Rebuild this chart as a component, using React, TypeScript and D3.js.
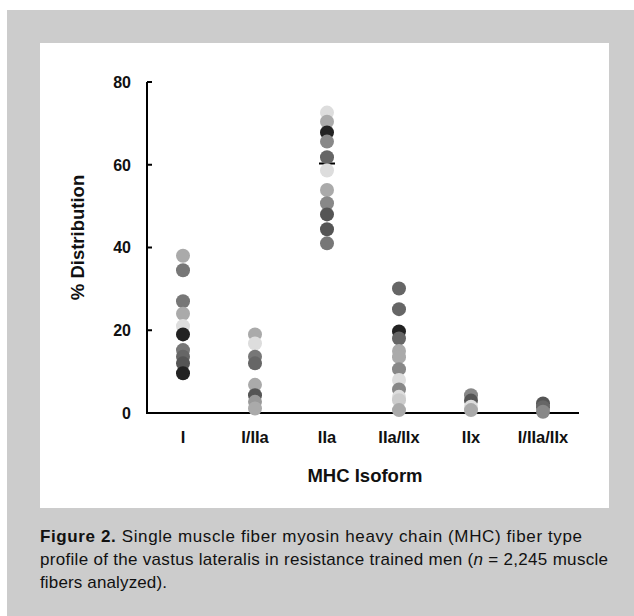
import React from "react";
import * as d3 from "d3";

const categories = ["I", "I/IIa", "IIa", "IIa/IIx", "IIx", "I/IIa/IIx"];

// values per category with gray shade of each dot
const groupI = [38, 34.5, 27, 24, 21, 19, 15.2, 13.6, 12, 9.6];
const groupIShade = ["#aaa", "#777", "#777", "#aaa", "#ddd", "#222", "#777", "#666", "#555", "#222"];
const groupIIIa = [19, 16.8, 13.6, 12, 6.8, 4.3, 2.7, 1.1];
const groupIIIaShade = ["#aaa", "#ddd", "#777", "#666", "#aaa", "#555", "#999", "#aaa"];
const groupIIa = [72.6, 70.4, 67.8, 65.6, 61.8, 58.6, 53.9, 50.7, 48, 44.4, 41];
const groupIIaShade = ["#ddd", "#aaa", "#222", "#888", "#666", "#ddd", "#aaa", "#888", "#555", "#555", "#777"];
const groupIIaIIx = [30.1, 25.1, 19.7, 18, 15, 13.5, 10.6, 8, 5.7, 3.9, 3.1, 0.7];
const groupIIaIIxShade = ["#666", "#666", "#222", "#666", "#aaa", "#aaa", "#888", "#ddd", "#888", "#ddd", "#ccc", "#aaa"];
const groupIIx = [4.3, 3, 1.5, 0.7];
const groupIIxShade = ["#888", "#555", "#ddd", "#aaa"];
const groupIIIaIIx = [2.3, 1.4, 0.3];
const groupIIIaIIxShade = ["#555", "#666", "#888"];

const yTicks = [0, 20, 40, 60, 80];

const groups = [
  { cat: "I", vals: groupI, shades: groupIShade },
  { cat: "I/IIa", vals: groupIIIa, shades: groupIIIaShade },
  { cat: "IIa", vals: groupIIa, shades: groupIIaShade },
  { cat: "IIa/IIx", vals: groupIIaIIx, shades: groupIIaIIxShade },
  { cat: "IIx", vals: groupIIx, shades: groupIIxShade },
  { cat: "I/IIa/IIx", vals: groupIIIaIIx, shades: groupIIIaIIxShade },
];

export default function App() {
  const W = 634, H = 616;
  const x0 = 147, x1 = 579;
  const y = d3.scaleLinear().domain([0, 80]).range([413, 82]);
  const x = d3.scaleBand().domain(categories).range([x0, x1]);
  const cx = (c: string) => (x(c) ?? 0) + x.bandwidth() / 2;
  const font = "'Liberation Sans', Arial, Helvetica, sans-serif";

  return (
    <svg width={W} height={H} style={{ position: "absolute", left: 0, top: 0 }} fontFamily={font}>
      <rect x={0} y={0} width={W} height={H} fill="#fff" />
      <rect x={7} y={10} width={W - 7} height={H - 10} fill="#cccccc" />
      <rect x={40} y={43} width={569} height={465} fill="#fff" />

      {/* axes */}
      <line x1={x0} x2={x0} y1={y(80)} y2={y(0)} stroke="#000" strokeWidth={2} />
      <line x1={x0 - 1} x2={x1} y1={y(0)} y2={y(0)} stroke="#000" strokeWidth={2} />
      {yTicks.map((t) => (
        <g key={t}>
          <line x1={x0} x2={x0 + 5} y1={y(t)} y2={y(t)} stroke="#000" strokeWidth={2} />
          <text x={131} y={y(t)} dy="0.36em" textAnchor="end" fontWeight="bold" fontSize={16} fill="#111">
            {t}
          </text>
        </g>
      ))}
      <text
        transform={`translate(84, ${y(40) - 10}) rotate(-90)`}
        textAnchor="middle"
        fontWeight="bold"
        fontSize={18.5}
        fill="#111"
      >
        % Distribution
      </text>

      {categories.map((c) => (
        <text key={c} x={cx(c)} y={443} textAnchor="middle" fontWeight="bold" fontSize={16.5} fill="#111">
          {c}
        </text>
      ))}
      <text x={365} y={482} textAnchor="middle" fontWeight="bold" fontSize={18.5} fill="#111">
        MHC Isoform
      </text>

      {/* mean marker for IIa */}
      <line x1={cx("IIa") - 8} x2={cx("IIa") + 8} y1={y(60.3)} y2={y(60.3)} stroke="#000" strokeWidth={2} />

      {groups.map((g) =>
        g.vals.map((v, i) => (
          <circle key={g.cat + i} cx={cx(g.cat)} cy={y(v)} r={7} fill={g.shades[i]} />
        ))
      )}

      <g fontSize={17} fill="#111">
        <text x={40} y={542} textLength={542} lengthAdjust="spacing">
          <tspan fontWeight="bold">Figure 2.</tspan>
          <tspan>{"  Single muscle fiber myosin heavy chain (MHC) fiber type"}</tspan>
        </text>
        <text x={40} y={565} textLength={568} lengthAdjust="spacing">
          profile of the vastus lateralis in resistance trained men (<tspan fontStyle="italic">n</tspan> = 2,245 muscle
        </text>
        <text x={40} y={588} textLength={127} lengthAdjust="spacing">fibers analyzed).</text>
      </g>
    </svg>
  );
}
